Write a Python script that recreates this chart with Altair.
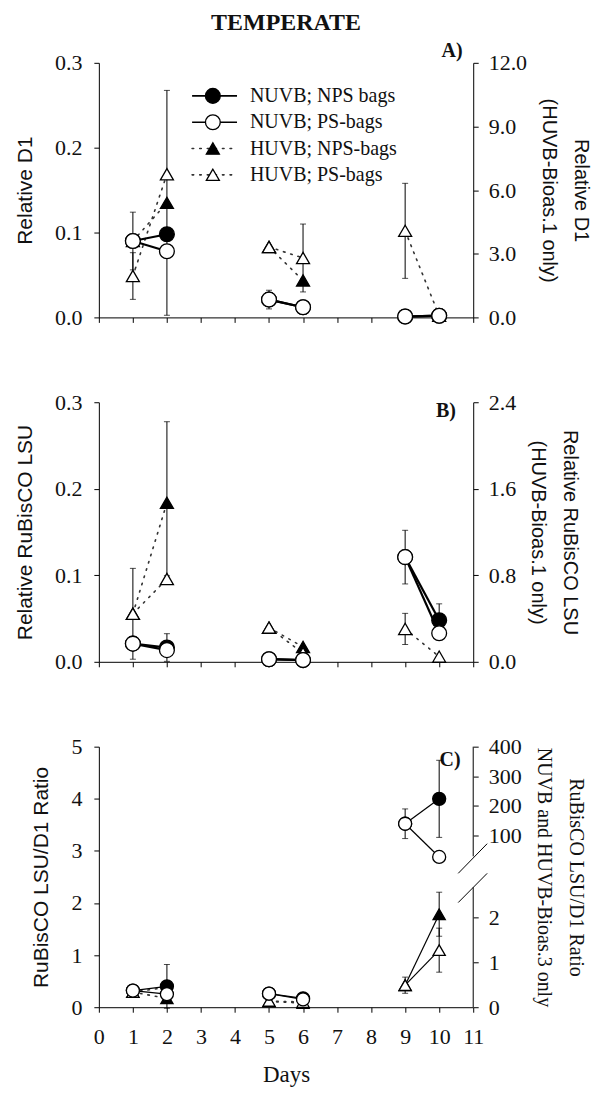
import altair as alt
import pandas as pd

# ---------------------------------------------------------------- data
DAYS = [1, 2, 5, 6, 9, 10]
BIOASSAY = [1, 1, 2, 2, 3, 3]
SERIES = ["NUVB; NPS bags", "NUVB; PS-bags", "HUVB; NPS-bags", "HUVB; PS-bags"]
X_TICKS = list(range(0, 12))

# Panel A - Relative D1 (HUVB bioassay 1 read on the right axis, 0-12)
A_NUVB_NPS = [0.090, 0.098, 0.021, 0.012, 0.001, 0.002]
A_NUVB_PS = [0.090, 0.078, 0.021, 0.012, 0.001, 0.002]
A_HUVB_NPS = [3.6, 5.4, 0.083, 0.0435, None, None]
A_HUVB_PS = [1.95, 6.75, 0.083, 0.070, 0.102, 0.002]
A_NUVB_NPS_ERR = [0, 0, 0, 0, 0, 0]
A_NUVB_PS_ERR = [0.034, 0, 0.011, 0, 0, 0]
A_HUVB_NPS_ERR = [0, 5.3, 0, 0, 0, 0]
A_HUVB_PS_ERR = [1.1, 0, 0, 0.040, 0.056, 0]
A_LEFT_TICKS = [0.0, 0.1, 0.2, 0.3]
A_RIGHT_TICKS = [0.0, 3.0, 6.0, 9.0, 12.0]

# Panel B - Relative RuBisCO LSU (HUVB bioassay 1 read on the right axis, 0-2.4)
B_NUVB_NPS = [0.021, 0.0165, 0.003, 0.002, 0.121, 0.048]
B_NUVB_PS = [0.021, 0.0135, 0.003, 0.002, 0.121, 0.033]
B_HUVB_NPS = [0.444, 1.47, 0.0395, 0.0172, None, None]
B_HUVB_PS = [0.444, 0.766, 0.0395, 0.010, 0.038, 0.006]
B_NUVB_NPS_ERR = [0, 0.016, 0, 0, 0, 0.019]
B_NUVB_PS_ERR = [0, 0, 0, 0, 0.031, 0]
B_HUVB_NPS_ERR = [0, 0.75, 0, 0, 0, 0]
B_HUVB_PS_ERR = [0.42, 0.03, 0, 0, 0.018, 0]
B_LEFT_TICKS = [0.0, 0.1, 0.2, 0.3]
B_RIGHT_TICKS = [0.0, 0.8, 1.6, 2.4]

# Panel C - RuBisCO LSU/D1 ratio (bioassay 3: NUVB on upper right axis, HUVB on lower right axis)
C_NUVB_NPS = [0.32, 0.40, 0.26, 0.17, 140, 224]
C_NUVB_PS = [0.32, 0.25, 0.26, 0.15, 140, 28]
C_HUVB_NPS = [0.29, 0.17, 0.11, 0.08, 0.49, 2.07]
C_HUVB_PS = [0.29, 0.38, 0.12, 0.10, 0.49, 1.27]
C_NUVB_NPS_ERR = [0, 0.42, 0, 0, 0, 130]
C_NUVB_PS_ERR = [0, 0, 0, 0, 50, 0]
C_HUVB_NPS_ERR = [0, 0, 0, 0, 0, 0.49]
C_HUVB_PS_ERR = [0, 0, 0, 0, 0.18, 0.49]
C_LEFT_TICKS = [0, 1, 2, 3, 4, 5]
C_UPPER_TICKS = [100, 200, 300, 400]
C_LOWER_TICKS = [0, 1, 2]

# ---------------------------------------------------------------- layout / style
SERIF = "Liberation Serif"
SANS = "Liberation Sans"
W = 375
H_A, H_B, H_C = 255, 260, 261
INK = "#111111"

STYLE = {
    "NUVB; NPS bags": dict(shape="circle", fill="black", dotted=False),
    "NUVB; PS-bags": dict(shape="circle", fill="white", dotted=False),
    "HUVB; NPS-bags": dict(shape="triangle-up", fill="black", dotted=True),
    "HUVB; PS-bags": dict(shape="triangle-up", fill="white", dotted=True),
}
DRAW_ORDER = ["HUVB; NPS-bags", "HUVB; PS-bags", "NUVB; NPS bags", "NUVB; PS-bags"]
DOTS = [1.6, 6]


def panel_df(vals, errs, group_of):
    rows = []
    for s, vlist, elist in zip(SERIES, vals, errs):
        for d, b, v, e in zip(DAYS, BIOASSAY, vlist, elist):
            if v is None:
                continue
            rows.append(dict(day=d, bio=b, series=s, val=v, err=e, lo=v - e, hi=v + e,
                             grp=group_of(s, b)))
    return pd.DataFrame(rows)


def x_enc(field, labels):
    if labels:
        ax = alt.Axis(values=X_TICKS, format="d", title="Days", grid=False, labelFlush=False,
                      tickSize=5, labelPadding=14, labelFont=SERIF, labelFontSize=22,
                      labelColor=INK, titleFont=SERIF, titleFontSize=23, titleFontWeight="normal",
                      titleColor=INK, titlePadding=16, domainColor="black", tickColor="black")
    else:
        ax = alt.Axis(values=X_TICKS, labels=False, title=None, grid=False, tickSize=5,
                      domainColor="black", tickColor="black")
    return alt.X(f"{field}:Q", scale=alt.Scale(domain=[0, 11], nice=False), axis=ax)


def y_axis(orient, values, fmt, title, title_font, domain=True):
    left = orient == "left"
    kw = dict(orient=orient, values=values, format=fmt, grid=False, tickSize=5,
              labelPadding=12 if left else 10,
              labelFont=SERIF, labelFontSize=22, labelColor=INK, tickColor="black",
              domainColor="black", domain=domain, titleFont=title_font,
              titleFontSize=21 if left else 20,
              titleFontWeight="normal", titleColor=INK, titlePadding=19 if left else 12,
              titleLineHeight=32)
    kw["title"] = title
    return alt.Axis(**kw)


def group_layers(df, dom, axis, xlabels, csize, tsize, line_w, dotted_huvb=True):
    def Y(f):
        return alt.Y(f"{f}:Q", scale=alt.Scale(domain=dom, nice=False, zero=False), axis=axis)

    X = x_enc("day", xlabels)
    layers = []
    e = df[df.err > 0]
    if len(e):
        layers.append(alt.Chart(e).mark_rule(color="black", strokeWidth=1)
                      .encode(x=X, y=Y("lo"), y2="hi:Q"))
        layers.append(alt.Chart(e).mark_tick(orient="horizontal", size=6, thickness=1, color="black")
                      .encode(x=X, y=Y("hi")))
        layers.append(alt.Chart(e).mark_tick(orient="horizontal", size=6, thickness=1, color="black")
                      .encode(x=X, y=Y("lo")))
    for s in DRAW_ORDER:
        sub = df[df.series == s]
        if len(sub) < 2:
            continue
        st = STYLE[s]
        if st["dotted"] and dotted_huvb:
            ln = alt.Chart(sub).mark_line(color="#333333", strokeWidth=1.6, strokeDash=DOTS,
                                          strokeCap="round")
        else:
            ln = alt.Chart(sub).mark_line(color="black", strokeWidth=line_w)
        layers.append(ln.encode(x=X, y=Y("val"), detail="bio:N", order="day:Q"))
    for s in DRAW_ORDER:
        sub = df[df.series == s]
        if not len(sub):
            continue
        st = STYLE[s]
        size = csize if st["shape"] == "circle" else tsize
        layers.append(alt.Chart(sub).mark_point(shape=st["shape"], filled=True, fill=st["fill"],
                                                stroke="black", strokeWidth=1.3, size=size,
                                                opacity=1, fillOpacity=1)
                      .encode(x=X, y=Y("val")))
    return layers, X, Y


def label_layer(text, xv, yv, X, Y):
    d = pd.DataFrame({"day": [xv], "val": [yv], "t": [text]})
    return alt.Chart(d).mark_text(font=SERIF, fontSize=20, fontWeight="bold", color=INK)\
        .encode(x=X, y=Y("val"), text="t:N")


def ab_group(s, b):
    return "R" if s.startswith("HUVB") and b == 1 else "L"


def c_group(s, b):
    if b == 3:
        return "U" if s.startswith("NUVB") else "D"
    return "L"


# ---------------------------------------------------------------- panel A
dfA = panel_df([A_NUVB_NPS, A_NUVB_PS, A_HUVB_NPS, A_HUVB_PS],
               [A_NUVB_NPS_ERR, A_NUVB_PS_ERR, A_HUVB_NPS_ERR, A_HUVB_PS_ERR], ab_group)
axA_L = y_axis("left", A_LEFT_TICKS, ".1f", "Relative D1", SANS)
axA_R = y_axis("right", A_RIGHT_TICKS, ".1f", ["Relative D1", "(HUVB-Bioas.1 only)"], SANS)
layA_R, _, _ = group_layers(dfA[dfA.grp == "R"], [0, 12], axA_R, False, 220, 170, 2.2)
layA_L, XA, YA = group_layers(dfA[dfA.grp == "L"], [0, 0.3], axA_L, False, 220, 170, 2.2)

# legend drawn inside panel A, on the left scale
leg_top, leg_step = 0.261, 0.031
leg = pd.DataFrame({
    "series": SERIES,
    "val": [leg_top - i * leg_step for i in range(len(SERIES))],
})
leg["x0"], leg["x1"], leg["day"], leg["xt"] = 2.74, 4.06, 3.35, 4.44
leg_layers = []
for s in SERIES:
    sub = leg[leg.series == s]
    st = STYLE[s]
    if st["dotted"]:
        rule = alt.Chart(sub).mark_rule(color="#333333", strokeWidth=1.6, strokeDash=DOTS, strokeCap="round")
    else:
        rule = alt.Chart(sub).mark_rule(color="black", strokeWidth=1.6)
    leg_layers.append(rule.encode(x=x_enc("x0", False), x2="x1:Q", y=YA("val")))
for s in SERIES:
    sub = leg[leg.series == s]
    st = STYLE[s]
    size = 220 if st["shape"] == "circle" else 170
    leg_layers.append(alt.Chart(sub).mark_point(shape=st["shape"], filled=True, fill=st["fill"],
                                                stroke="black", strokeWidth=1.3, size=size, opacity=1)
                      .encode(x=XA, y=YA("val")))
leg_layers.append(alt.Chart(leg).mark_text(align="left", baseline="middle", font=SERIF, fontSize=20,
                                           color=INK)
                  .encode(x=x_enc("xt", False), y=YA("val"), text="series:N"))

panelA = alt.layer(
    alt.layer(*layA_R),
    alt.layer(*layA_L, *leg_layers, label_layer("A)", 10.38, 0.314, XA, YA)),
).resolve_scale(y="independent").properties(
    width=W, height=H_A,
    title=alt.TitleParams("TEMPERATE", frame="group", anchor="middle", font=SERIF, fontSize=24,
                          fontWeight="bold", color=INK, offset=6))

# ---------------------------------------------------------------- panel B
dfB = panel_df([B_NUVB_NPS, B_NUVB_PS, B_HUVB_NPS, B_HUVB_PS],
               [B_NUVB_NPS_ERR, B_NUVB_PS_ERR, B_HUVB_NPS_ERR, B_HUVB_PS_ERR], ab_group)
axB_L = y_axis("left", B_LEFT_TICKS, ".1f", "Relative RuBisCO LSU", SANS)
axB_R = y_axis("right", B_RIGHT_TICKS, ".1f", ["Relative RuBisCO LSU", "(HUVB-Bioas.1 only)"], SANS)
layB_R, _, _ = group_layers(dfB[dfB.grp == "R"], [0, 2.4], axB_R, False, 220, 170, 2.2)
layB_L, XB, YB = group_layers(dfB[dfB.grp == "L"], [0, 0.3], axB_L, False, 220, 170, 2.2)
panelB = alt.layer(
    alt.layer(*layB_R),
    alt.layer(*layB_L, label_layer("B)", 10.2, 0.29, XB, YB)),
).resolve_scale(y="independent").properties(width=W, height=H_B)

# ---------------------------------------------------------------- panel C
dfC = panel_df([C_NUVB_NPS, C_NUVB_PS, C_HUVB_NPS, C_HUVB_PS],
               [C_NUVB_NPS_ERR, C_NUVB_PS_ERR, C_HUVB_NPS_ERR, C_HUVB_PS_ERR], c_group)
UP_PX_PER_UNIT = 0.297
LOW_PX_PER_UNIT = 45.0
domC_U = [400 - H_C / UP_PX_PER_UNIT, 400]
domC_D = [0, H_C / LOW_PX_PER_UNIT]
axC_L = y_axis("left", C_LEFT_TICKS, "d", "RuBisCO LSU/D1 Ratio", SANS)
axC_U = y_axis("right", C_UPPER_TICKS, "d", ["RuBisCO LSU/D1 Ratio", "NUVB and HUVB-Bioas.3 only"],
               SERIF, domain=False)
axC_D = y_axis("right", C_LOWER_TICKS, "d", None, SERIF, domain=False)

layC_L, XC, YC = group_layers(dfC[dfC.grp == "L"], [0, 5], axC_L, True, 170, 150, 1.2)
layC_U, _, YU = group_layers(dfC[dfC.grp == "U"], domC_U, axC_U, True, 170, 150, 1.2)
layC_D, _, YD = group_layers(dfC[dfC.grp == "D"], domC_D, axC_D, True, 170, 150, 1.2,
                             dotted_huvb=False)

# broken right axis: two axis segments and two break strokes
seg_up = pd.DataFrame({"day": [11], "val": [30], "top": [400]})
seg_low = pd.DataFrame({"day": [11], "val": [0], "top": [2.67]})
breaks = pd.DataFrame({"day": [10.56, 10.56], "x2": [11.41, 11.41],
                       "val": [2.98, 2.33], "y2": [3.64, 2.98]})
layC_U.append(alt.Chart(seg_up).mark_rule(color="black", strokeWidth=1)
              .encode(x=XC, y=YU("val"), y2="top:Q"))
layC_D.append(alt.Chart(seg_low).mark_rule(color="black", strokeWidth=1)
              .encode(x=XC, y=YD("val"), y2="top:Q"))
layC_D.append(alt.Chart(breaks).mark_rule(color="black", strokeWidth=1)
              .encode(x=XC, x2="x2:Q", y=YD("val"), y2="y2:Q"))

panelC = alt.layer(
    alt.layer(*layC_L, label_layer("C)", 10.32, 4.75, XC, YC)),
    alt.layer(*layC_U),
    alt.layer(*layC_D),
).resolve_scale(y="independent").properties(width=W, height=H_C)

chart = alt.VConcatChart(
    vconcat=[panelA, panelB, panelC], spacing=85, bounds="flush",
    padding={"left": 6, "top": 2, "right": 4, "bottom": 0},
).configure_view(stroke=None)

chart.save("out.html", embed_options={"renderer": "svg", "actions": False})
